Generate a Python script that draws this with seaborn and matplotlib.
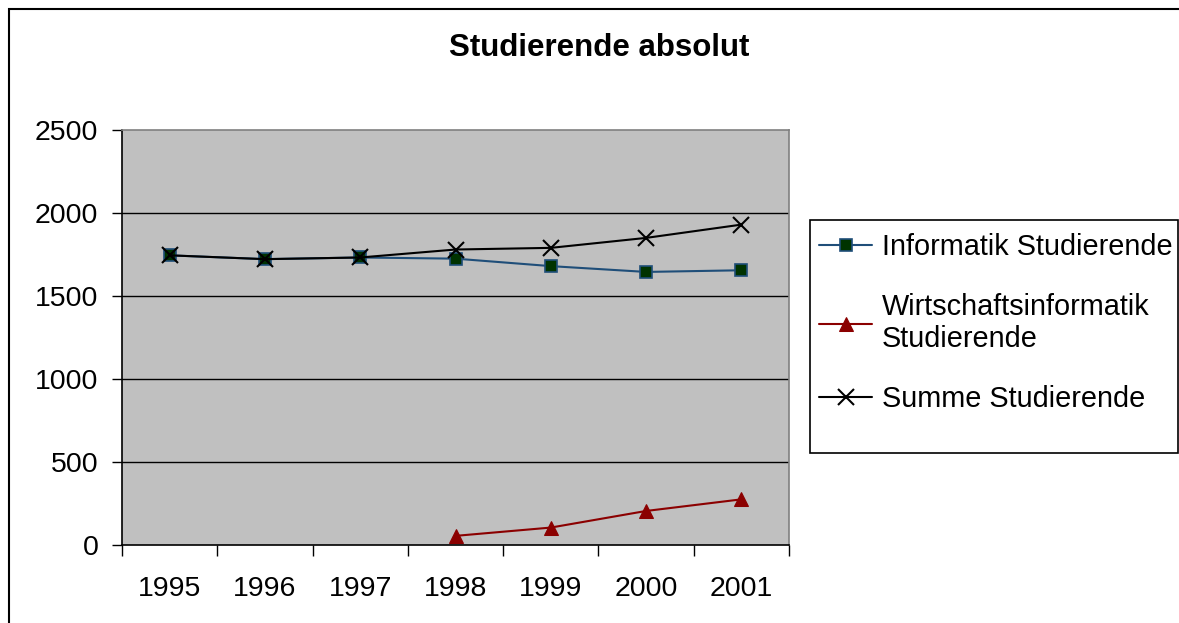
import numpy as np
import pandas as pd
import seaborn as sns
import matplotlib.pyplot as plt
from matplotlib.patches import Rectangle

years = ['1995', '1996', '1997', '1998', '1999', '2000', '2001']
informatik = [1745, 1722, 1732, 1725, 1680, 1645, 1655]
wirtschaft = [np.nan, np.nan, np.nan, 55, 105, 205, 275]
summe = [1745, 1722, 1732, 1780, 1790, 1850, 1930]
y_ticks = [0, 500, 1000, 1500, 2000, 2500]

sns.set_style('white')
plt.rcParams['font.family'] = ['Liberation Sans', 'DejaVu Sans']
plt.rcParams['text.color'] = 'black'
plt.rcParams['xtick.color'] = 'black'
plt.rcParams['ytick.color'] = 'black'

W, H = 1179, 623
fig = plt.figure(figsize=(W / 100, H / 100), dpi=100)
ax = fig.add_axes([122 / W, 1 - 545 / H, 667 / W, 415 / H])
ax.set_facecolor('#C0C0C0')

x = np.arange(len(years))
sns.lineplot(x=x, y=informatik, ax=ax, color='#1F4E79', marker='s', markersize=8,
             markerfacecolor='#003300', markeredgecolor='#1F4E79', markeredgewidth=1.2,
             linewidth=1.5, label='Informatik Studierende')
sns.lineplot(x=x, y=wirtschaft, ax=ax, color='#8B0000', marker='^', markersize=10,
             markerfacecolor='#8B0000', markeredgecolor='#8B0000',
             linewidth=1.5, label='Wirtschaftsinformatik\nStudierende')
sns.lineplot(x=x, y=summe, ax=ax, color='black', marker='x', markersize=11,
             markeredgecolor='black', markeredgewidth=1.5, linewidth=1.5,
             label='Summe Studierende')

ax.set_xlim(-0.5, len(years) - 0.5)
ax.set_ylim(0, 2500)
ax.set_yticks(y_ticks)
ax.set_yticklabels([str(v) for v in y_ticks], fontsize=20.5)
for v in y_ticks[1:-1]:
    ax.axhline(v, color='black', linewidth=1, zorder=0.5)

ax.set_xticks(x)
ax.set_xticklabels(years, fontsize=20.5)
ax.set_xticks(np.arange(-0.5, len(years)), minor=True)
ax.tick_params(axis='x', which='major', length=0, pad=22)
ax.tick_params(axis='x', which='minor', length=8, width=1, color='black', direction='out', bottom=True)
ax.tick_params(axis='y', length=7, width=1, color='black', direction='out', left=True, pad=10)

for side, sp in ax.spines.items():
    sp.set_color('#808080')
    sp.set_linewidth(1.2)
ax.spines['bottom'].set_color('black')
ax.spines['left'].set_color('black')

ax.set_xlabel('')
ax.set_ylabel('')

fig.text(599 / W, 1 - 48 / H, 'Studierende absolut',
         fontsize=22.5, fontweight='bold', ha='center', va='center')

# legend: text/handles without frame, box drawn separately
handles, labels = ax.get_legend_handles_labels()
if ax.legend_:
    ax.legend_.remove()
leg = fig.legend(handles, labels, loc='upper left',
                 bbox_to_anchor=(819 / W, 1 - 233 / H), fontsize=20.8,
                 frameon=False, handlelength=1.85, handletextpad=0.33,
                 labelspacing=1.1, borderpad=0, borderaxespad=0)

fig.patches.append(Rectangle((810 / W, 1 - 453 / H), 368 / W, 233 / H,
                             transform=fig.transFigure, fill=False,
                             edgecolor='black', linewidth=1.2))
fig.patches.append(Rectangle((9 / W, -0.1), 1.2, 1 - 9 / H + 0.1,
                             transform=fig.transFigure, fill=False,
                             edgecolor='black', linewidth=1.5))

fig.savefig('out.png', dpi=100)
